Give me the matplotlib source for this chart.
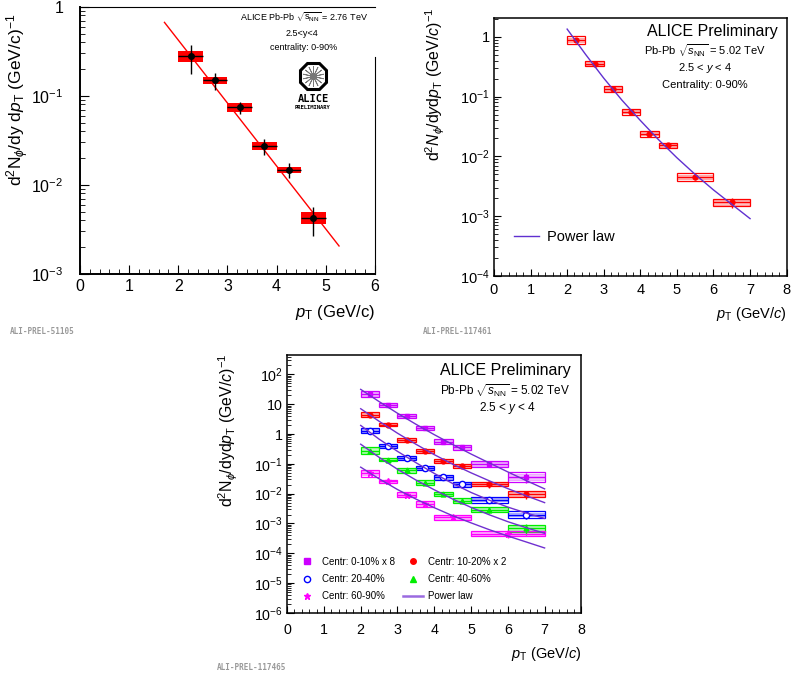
import numpy as np
import matplotlib
matplotlib.use('Agg')
import matplotlib.pyplot as plt
from matplotlib.patches import Rectangle
from matplotlib.lines import Line2D
from matplotlib.ticker import LogLocator, MultipleLocator, FuncFormatter, NullFormatter

plt.rcParams['font.family'] = ['Liberation Sans', 'DejaVu Sans']
plt.rcParams['mathtext.fontset'] = 'custom'
plt.rcParams['mathtext.rm'] = 'Liberation Sans'
plt.rcParams['mathtext.it'] = 'Liberation Sans:italic'
plt.rcParams['mathtext.bf'] = 'Liberation Sans:bold'

# --- panel 1 : Pb-Pb 2.76 TeV, 0-90% ---
pt_276 = [2.25, 2.75, 3.25, 3.75, 4.25, 4.75]
dpt_276 = [0.25, 0.25, 0.25, 0.25, 0.25, 0.25]
y_276 = [0.277, 0.149, 0.074, 0.027, 0.0147, 0.0042]
stat_276 = [0.10, 0.033, 0.012, 0.0055, 0.0028, 0.0015]
sys_276 = [0.15, 0.09, 0.12, 0.11, 0.08, 0.17]
fit_276_x = [1.72, 5.27]
fit_276_y = [0.668, 0.00206]

# --- panel 2 : Pb-Pb 5.02 TeV, 0-90% ---
pt_502 = [2.25, 2.75, 3.25, 3.75, 4.25, 4.75, 5.5, 6.5]
dpt_502 = [0.25, 0.25, 0.25, 0.25, 0.25, 0.25, 0.5, 0.5]
y_502 = [0.89, 0.355, 0.134, 0.056, 0.024, 0.0153, 0.0045, 0.0017]
stat_502 = [0.03, 0.03, 0.04, 0.05, 0.06, 0.07, 0.12, 0.18]
sys_502 = [0.15, 0.10, 0.12, 0.13, 0.12, 0.10, 0.16, 0.16]
pl_x = [2.0, 2.5, 3.0, 3.5, 4.0, 4.5, 5.0, 5.5, 6.0, 6.5, 7.0]
pl_502 = [1.35, 0.513, 0.204, 0.087, 0.040, 0.019, 0.0095, 0.0050, 0.00275, 0.00158, 0.00091]

# --- panel 3 : Pb-Pb 5.02 TeV, centrality classes ---
pt_c = [2.25, 2.75, 3.25, 3.75, 4.25, 4.75, 5.5, 6.5]
dpt_c = [0.25, 0.25, 0.25, 0.25, 0.25, 0.25, 0.5, 0.5]
pt_6090 = [2.25, 2.75, 3.25, 3.75, 4.5, 6.0]
dpt_6090 = [0.25, 0.25, 0.25, 0.25, 0.5, 1.0]

y_0010 = [22, 9.6, 4.1, 1.64, 0.56, 0.355, 0.098, 0.036]
y_1020 = [4.5, 2.05, 0.63, 0.27, 0.126, 0.083, 0.021, 0.0098]
y_2040 = [1.3, 0.39, 0.155, 0.072, 0.035, 0.0205, 0.0063, 0.0020]
y_4060 = [0.28, 0.14, 0.060, 0.0231, 0.0098, 0.0059, 0.0029, 0.0007]
y_6090 = [0.049, 0.026, 0.0092, 0.0045, 0.0016, 0.00046]

sys_0010 = [0.25, 0.15, 0.15, 0.18, 0.2, 0.2, 0.25, 0.45]
sys_1020 = [0.25, 0.12, 0.15, 0.18, 0.18, 0.18, 0.2, 0.25]
sys_2040 = [0.2, 0.15, 0.15, 0.18, 0.18, 0.18, 0.25, 0.3]
sys_4060 = [0.35, 0.15, 0.18, 0.2, 0.2, 0.2, 0.2, 0.3]
sys_6090 = [0.3, 0.15, 0.2, 0.25, 0.2, 0.2]

stat_0010 = [0.04, 0.04, 0.05, 0.06, 0.08, 0.1, 0.2, 0.35]
stat_1020 = [0.04, 0.04, 0.05, 0.06, 0.08, 0.1, 0.25, 0.3]
stat_2040 = [0.04, 0.04, 0.05, 0.06, 0.08, 0.1, 0.15, 0.3]
stat_4060 = [0.05, 0.05, 0.06, 0.08, 0.1, 0.12, 0.2, 0.4]
stat_6090 = [0.08, 0.08, 0.1, 0.12, 0.15, 0.3]

pl_0010 = [31.6, 12.3, 5.0, 2.14, 0.955, 0.447, 0.214, 0.107, 0.0537, 0.0275, 0.0145]
pl_1020 = [7.08, 2.69, 1.07, 0.457, 0.204, 0.0977, 0.0501, 0.0269, 0.0148, 0.00851, 0.00501]
pl_2040 = [1.95, 0.676, 0.263, 0.110, 0.0479, 0.0219, 0.0110, 0.00603, 0.00355, 0.00224, 0.00148]
pl_4060 = [0.457, 0.166, 0.0661, 0.0288, 0.0135, 0.00661, 0.00347, 0.00195, 0.00115, 0.000724, 0.000468]
pl_6090 = [0.0776, 0.0316, 0.0138, 0.00661, 0.00339, 0.00182, 0.00105, 0.000617, 0.000380, 0.000240, 0.000151]

c_0010 = '#cc00ff'
c_1020 = '#ff0000'
c_2040 = '#0000ff'
c_4060 = '#00ee00'
c_6090 = '#ff00ff'
c_pl = '#7030d0'


def log_fmt(v, pos):
    e = int(round(np.log10(v)))
    if e == 0:
        return '1'
    if e == 1:
        return '10'
    return r'$10^{%d}$' % e


def style_axes(ax, xmax, ymin, ymax, size, ypad, xpad, maj, mnr):
    ax.set_yscale('log')
    ax.set_xlim(0, xmax)
    ax.set_ylim(ymin, ymax)
    ax.xaxis.set_major_locator(MultipleLocator(1))
    ax.xaxis.set_minor_locator(MultipleLocator(0.2))
    ax.yaxis.set_major_locator(LogLocator(base=10, numticks=20))
    ax.yaxis.set_minor_locator(LogLocator(base=10, subs=range(2, 10), numticks=20))
    ax.yaxis.set_major_formatter(FuncFormatter(log_fmt))
    ax.yaxis.set_minor_formatter(NullFormatter())
    ax.tick_params(which='both', direction='in', labelsize=size)
    ax.tick_params(which='major', length=maj)
    ax.tick_params(which='minor', length=mnr)
    ax.tick_params(axis='y', pad=ypad)
    ax.tick_params(axis='x', pad=xpad)


def draw_open(ax, x, dx, y, stat, sys, color, marker, ms, mfc):
    for xi, dxi, yi, si in zip(x, dx, y, sys):
        lo, hi = yi / (1 + si), yi * (1 + si)
        ax.add_patch(Rectangle((xi - dxi, lo), 2 * dxi, hi - lo, fill=False,
                               ec=color, lw=0.9, zorder=2))
        lo2, hi2 = yi / (1 + 0.55 * si), yi * (1 + 0.55 * si)
        ax.add_patch(Rectangle((xi - dxi, lo2), 2 * dxi, hi2 - lo2, fc=color,
                               alpha=0.25, ec=color, lw=0.7, zorder=2))
    yerr = np.array(y) * np.array(stat)
    ax.errorbar(x, y, xerr=dx, yerr=yerr, fmt=marker, color=color, ms=ms,
                mfc=mfc, mec=color, elinewidth=1, capsize=0, zorder=3)


fig = plt.figure(figsize=(7.91, 6.78), dpi=100)

# ---------------- panel 1 ----------------
ax1 = fig.add_axes([0.101, 0.596, 0.373, 0.394])
style_axes(ax1, 6, 1e-3, 1, 11.5, 12, 4, 6.5, 3.6)
for xi, dxi, yi, si in zip(pt_276, dpt_276, y_276, sys_276):
    lo, hi = yi / (1 + si), yi * (1 + si)
    ax1.add_patch(Rectangle((xi - dxi, lo), 2 * dxi, hi - lo, fc='#ff0000', ec='none', zorder=2))
ax1.plot(fit_276_x, fit_276_y, color='#ff0000', lw=1, zorder=3)
ax1.errorbar(pt_276, y_276, xerr=dpt_276, yerr=stat_276, fmt='o', color='black', ms=4,
             elinewidth=1, capsize=0, zorder=4)
for s in ['left', 'bottom']:
    ax1.spines[s].set_linewidth(1.4)
for s in ['top', 'right']:
    ax1.spines[s].set_linewidth(0.8)
ax1.spines['right'].set_bounds(1e-3, 0.27)
ax1.set_ylabel(r'd$^{2}$N$_{\phi}$/dy d$p_{\rm T}$ (GeV/c)$^{-1}$', fontsize=12.5, loc='top')
ax1.yaxis.set_label_coords(-0.165, 0.975)
ax1.set_xlabel(r'$p_{\rm T}$ (GeV/c)', fontsize=12, loc='right')
ax1.xaxis.set_label_coords(1.0, -0.11)
ax1.text(0.76, 0.961, r'ALICE Pb-Pb $\sqrt{{\rm s}_{\rm NN}}$ = 2.76 TeV', transform=ax1.transAxes,
         ha='center', va='center', fontsize=6.5)
ax1.text(0.752, 0.901, '2.5<y<4', transform=ax1.transAxes, ha='center', va='center', fontsize=6.5)
ax1.text(0.76, 0.848, 'centrality: 0-90%', transform=ax1.transAxes, ha='center', va='center',
         fontsize=6.5)
# ALICE logo
ax1.plot([0.79], [0.74], marker='8', ms=21, mfc='white', mec='black', mew=2.2,
         transform=ax1.transAxes, clip_on=False)
ax1.plot([0.79], [0.74], marker=(14, 2, 0), ms=15, mec='#777777', mew=0.6,
         transform=ax1.transAxes, clip_on=False)
ax1.text(0.79, 0.655, 'ALICE', transform=ax1.transAxes, ha='center', va='center', fontsize=7.5,
         family='DejaVu Sans Mono', weight='bold')
ax1.text(0.79, 0.622, 'PRELIMINARY', transform=ax1.transAxes, ha='center', va='center', fontsize=4,
         family='DejaVu Sans Mono', weight='bold')

# ---------------- panel 2 ----------------
ax2 = fig.add_axes([0.6245, 0.593, 0.370, 0.381])
style_axes(ax2, 8, 1e-4, 2.1, 10.5, 3, 5, 5, 3)
for s in ax2.spines.values():
    s.set_linewidth(1.1)
draw_open(ax2, pt_502, dpt_502, y_502, stat_502, sys_502, '#ff0000', 'o', 3.5, '#ff0000')
pl_line, = ax2.plot(pl_x, pl_502, color='#6030d0', lw=1, zorder=4)
ax2.legend([pl_line], ['Power law'], loc='lower left', bbox_to_anchor=(0.05, 0.1), frameon=False,
           fontsize=10.5, handlelength=1.7, handletextpad=0.5, borderaxespad=0)
ax2.set_ylabel(r'd$^{2}$$N_{\phi}$/d$y$d$p_{\rm T}$ (GeV/$c$)$^{-1}$', fontsize=11.4, loc='top')
ax2.yaxis.set_label_coords(-0.16, 1.039)
ax2.set_xlabel(r'$p_{\rm T}$ (GeV/$c$)', fontsize=10.5, loc='right')
ax2.xaxis.set_label_coords(1.0, -0.112)
ax2.text(0.969, 0.946, 'ALICE Preliminary', transform=ax2.transAxes, ha='right', va='center',
         fontsize=11.5)
ax2.text(0.72, 0.872, r'Pb-Pb $\sqrt{s_{\rm NN}}$ = 5.02 TeV', transform=ax2.transAxes,
         ha='center', va='center', fontsize=8)
ax2.text(0.72, 0.806, r'2.5 < $y$ < 4', transform=ax2.transAxes, ha='center', va='center', fontsize=8)
ax2.text(0.72, 0.74, 'Centrality: 0-90%', transform=ax2.transAxes, ha='center', va='center',
         fontsize=8)

# ---------------- panel 3 ----------------
ax3 = fig.add_axes([0.363, 0.096, 0.372, 0.380])
style_axes(ax3, 8, 1e-6, 440, 10.3, 3, 7, 5, 3)
for s in ax3.spines.values():
    s.set_linewidth(1.1)
draw_open(ax3, pt_c, dpt_c, y_0010, stat_0010, sys_0010, c_0010, 's', 3.5, c_0010)
draw_open(ax3, pt_c, dpt_c, y_1020, stat_1020, sys_1020, c_1020, 'o', 3.5, c_1020)
draw_open(ax3, pt_c, dpt_c, y_2040, stat_2040, sys_2040, c_2040, 'o', 4.5, 'white')
draw_open(ax3, pt_c, dpt_c, y_4060, stat_4060, sys_4060, c_4060, '^', 3.5, c_4060)
draw_open(ax3, pt_6090, dpt_6090, y_6090, stat_6090, sys_6090, c_6090, '*', 4.5, c_6090)
for curve in [pl_0010, pl_1020, pl_2040, pl_4060, pl_6090]:
    ax3.plot(pl_x, curve, color=c_pl, lw=1, zorder=4)

handles = [
    Line2D([], [], ls='none', marker='s', ms=4, color=c_0010),
    Line2D([], [], ls='none', marker='o', ms=4.5, color=c_2040, mfc='white'),
    Line2D([], [], ls='none', marker='*', ms=5, color=c_6090),
    Line2D([], [], ls='none', marker='o', ms=4, color=c_1020),
    Line2D([], [], ls='none', marker='^', ms=4, color=c_4060),
    Line2D([], [], color='#9a6ae0', lw=1.8),
]
labels = ['Centr: 0-10% x 8', 'Centr: 20-40%', 'Centr: 60-90%',
          'Centr: 10-20% x 2', 'Centr: 40-60%', 'Power law']
ax3.legend(handles, labels, ncol=2, loc='lower left', bbox_to_anchor=(0.035, 0.045), frameon=False,
           fontsize=7, handlelength=2.0, handletextpad=0.5, columnspacing=0.9, labelspacing=0.75,
           borderaxespad=0, borderpad=0)
ax3.set_ylabel(r'd$^{2}$N$_{\phi}$/dyd$p_{\rm T}$ (GeV/$c$)$^{-1}$', fontsize=11.4, loc='top')
ax3.yaxis.set_label_coords(-0.16, 1.008)
ax3.set_xlabel(r'$p_{\rm T}$ (GeV/$c$)', fontsize=10.5, loc='right')
ax3.xaxis.set_label_coords(1.0, -0.124)
ax3.text(0.963, 0.942, 'ALICE Preliminary', transform=ax3.transAxes, ha='right', va='center',
         fontsize=11.5)
ax3.text(0.741, 0.862, r'Pb-Pb $\sqrt{s_{\rm NN}}$ = 5.02 TeV', transform=ax3.transAxes,
         ha='center', va='center', fontsize=8.5)
ax3.text(0.748, 0.795, r'2.5 < $y$ < 4', transform=ax3.transAxes, ha='center', va='center',
         fontsize=8.5)

# watermarks
for xw, yw, tag in [(10, 332, 'ALI-PREL-51105'), (423, 332, 'ALI-PREL-117461'),
                    (217, 668, 'ALI-PREL-117465')]:
    fig.text(xw / 791, 1 - yw / 678, tag, ha='left', va='center', fontsize=5.5,
             family='DejaVu Sans Mono', color='#999999', weight='bold')

fig.savefig('out.png', dpi=100)
